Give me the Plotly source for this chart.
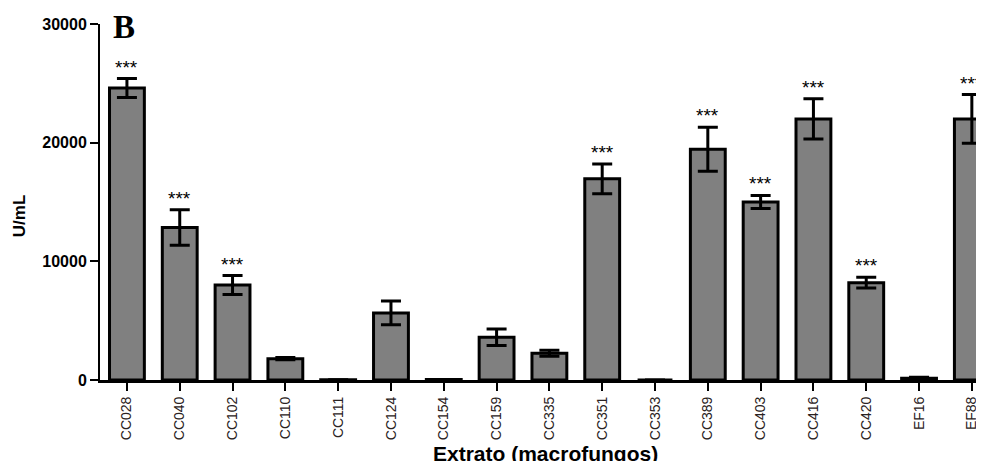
import plotly.graph_objects as go

categories = ["CC028", "CC040", "CC102", "CC110", "CC111", "CC124", "CC154", "CC159",
              "CC335", "CC351", "CC353", "CC389", "CC403", "CC416", "CC420", "EF16", "EF88"]
values = [24600, 12850, 8000, 1800, 30, 5650, 40, 3600,
          2250, 16950, 0, 19450, 15000, 22000, 8200, 150, 22000]
errors = [800, 1500, 800, 100, 0, 1000, 0, 700,
          250, 1250, 0, 1850, 550, 1700, 450, 80, 2050]
significant = [True, True, True, False, False, False, False, False,
               False, True, False, True, True, True, True, False, True]
y_ticks = [0, 10000, 20000, 30000]

fig = go.Figure()
fig.add_trace(go.Bar(
    x=list(range(len(categories))), y=values, width=0.66,
    marker=dict(color="#808080", line=dict(color="black", width=3)),
    error_y=dict(type="data", array=errors, visible=True, color="black",
                 thickness=3, width=10),
    cliponaxis=False,
))

for i, (v, e, s) in enumerate(zip(values, errors, significant)):
    if s:
        fig.add_annotation(x=i, y=v + e, xref="x", yref="y", text="***",
                           showarrow=False, yanchor="bottom", yshift=-1,
                           font=dict(family="Liberation Sans", size=19, color="black"))

fig.add_annotation(text="<b>B</b>", xref="paper", yref="paper", x=0.027, y=1.0,
                   xanchor="center", yanchor="middle", yshift=-3, showarrow=False,
                   font=dict(family="Liberation Serif", size=33, color="black"))
fig.add_annotation(text="<b>U/mL</b>", xref="paper", yref="paper", x=0, y=0.46,
                   xanchor="center", xshift=-81, textangle=-90, showarrow=False,
                   font=dict(family="Liberation Sans", size=17, color="black"))
fig.add_annotation(text="<b>Extrato (macrofungos)</b>", xref="paper", yref="paper",
                   x=0.5045, y=0, xanchor="center", yanchor="top", yshift=-60,
                   showarrow=False,
                   font=dict(family="Liberation Sans", size=21, color="black"))

fig.update_layout(
    width=976, height=453,
    margin=dict(l=92, r=0, t=16, b=81, autoexpand=False),
    plot_bgcolor="white", paper_bgcolor="white",
    showlegend=False,
    xaxis=dict(range=[-0.51, 16.23], tickmode="array", automargin=False,
               tickvals=list(range(len(categories))), ticktext=categories,
               tickangle=-90, ticks="outside", ticklen=8, tickwidth=2, tickcolor="black",
               showline=True, linecolor="black", linewidth=3, showgrid=False,
               zeroline=False,
               tickfont=dict(family="Liberation Sans", size=14, color="#2a2222")),
    yaxis=dict(range=[0, 30000], tickmode="array", tickvals=y_ticks, automargin=False,
               ticktext=[str(t) for t in y_ticks],
               ticks="outside", ticklen=8, tickwidth=2, tickcolor="black",
               showline=True, linecolor="black", linewidth=2, showgrid=False,
               zeroline=False,
               tickfont=dict(family="Liberation Sans", size=16, color="black", weight="bold")),
)

fig.write_html("out.html")
